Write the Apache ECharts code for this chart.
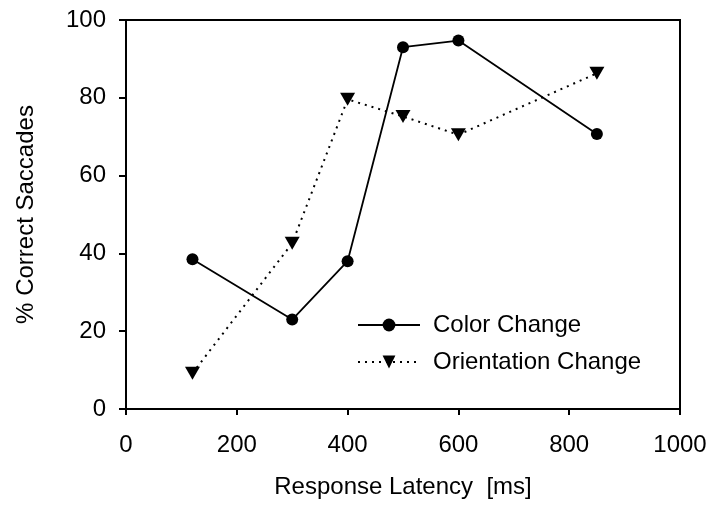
<!DOCTYPE html>
<html>
<head>
<meta charset="utf-8">
<script src="https://cdn.jsdelivr.net/npm/echarts@6/dist/echarts.min.js"></script>
<style>html,body{margin:0;padding:0;background:#fff}#c{width:708px;height:510px}</style>
</head>
<body>
<div id="c"></div>
<script>
const latency = [120, 300, 400, 500, 600, 850];
const colorChange = [38.5, 23, 38, 93, 94.7, 70.7];
const orientationChange = [9.2, 42.6, 79.6, 75.2, 70.5, 86.3];
const xTicks = [0, 200, 400, 600, 800, 1000];
const yTicks = [0, 20, 40, 60, 80, 100];
const seriesNames = ['Color Change', 'Orientation Change'];

const font = 'Liberation Sans, Arial, sans-serif';
const fs = 24;
const chart = echarts.init(document.getElementById('c'), null, {renderer: 'canvas'});
chart.setOption({
  animation: false,
  backgroundColor: '#fff',
  textStyle: {fontFamily: font, color: '#000'},
  grid: {left: 126, right: 28, top: 20, bottom: 101, outerBoundsMode: 'none', containLabel: false,
    show: true, borderColor: '#000', borderWidth: 2, backgroundColor: 'transparent'},
  legend: {
    orient: 'vertical', left: 357, top: 313, padding: 0, itemWidth: 62, itemHeight: 16, itemGap: 13,
    textStyle: {fontFamily: font, fontSize: fs, color: '#000', padding: [0,0,0,8]},
    data: seriesNames
  },
  xAxis: {
    type: 'value', min: xTicks[0], max: xTicks[xTicks.length-1], interval: 200,
    name: 'Response Latency  [ms]', nameLocation: 'middle', nameGap: 66,
    nameTextStyle: {fontFamily: font, fontSize: fs, color: '#000'},
    axisLine: {show: true, lineStyle: {color: '#000', width: 2}},
    axisTick: {show: true, inside: false, length: 6, lineStyle: {color: '#000', width: 2}},
    axisLabel: {fontFamily: font, fontSize: fs, color: '#000', margin: 24, formatter: v => String(v)},
    splitLine: {show: false}
  },
  yAxis: {
    type: 'value', min: yTicks[0], max: yTicks[yTicks.length-1], interval: 20,
    name: '% Correct Saccades', nameLocation: 'middle', nameGap: 88,
    nameTextStyle: {fontFamily: font, fontSize: fs, color: '#000'},
    axisLine: {show: true, lineStyle: {color: '#000', width: 2}},
    axisTick: {show: true, inside: false, length: 7, lineStyle: {color: '#000', width: 2}},
    axisLabel: {fontFamily: font, fontSize: fs, color: '#000', margin: 20, formatter: v => String(v)},
    splitLine: {show: false}
  },
  series: [
    {
      name: seriesNames[0], type: 'line',
      data: latency.map((x, i) => [x, colorChange[i]]),
      symbol: 'circle', symbolSize: 12, showAllSymbol: true,
      itemStyle: {color: '#000'},
      lineStyle: {color: '#000', width: 1.8, type: 'solid'},
      z: 3
    },
    {
      name: seriesNames[1], type: 'line',
      data: latency.map((x, i) => [x, orientationChange[i]]),
      symbol: 'triangle', symbolRotate: 180, symbolSize: [15, 13], showAllSymbol: true,
      itemStyle: {color: '#000'},
      lineStyle: {color: '#000', width: 2, type: [2, 5]},
      z: 2
    }
  ]
});
</script>
</body>
</html>
